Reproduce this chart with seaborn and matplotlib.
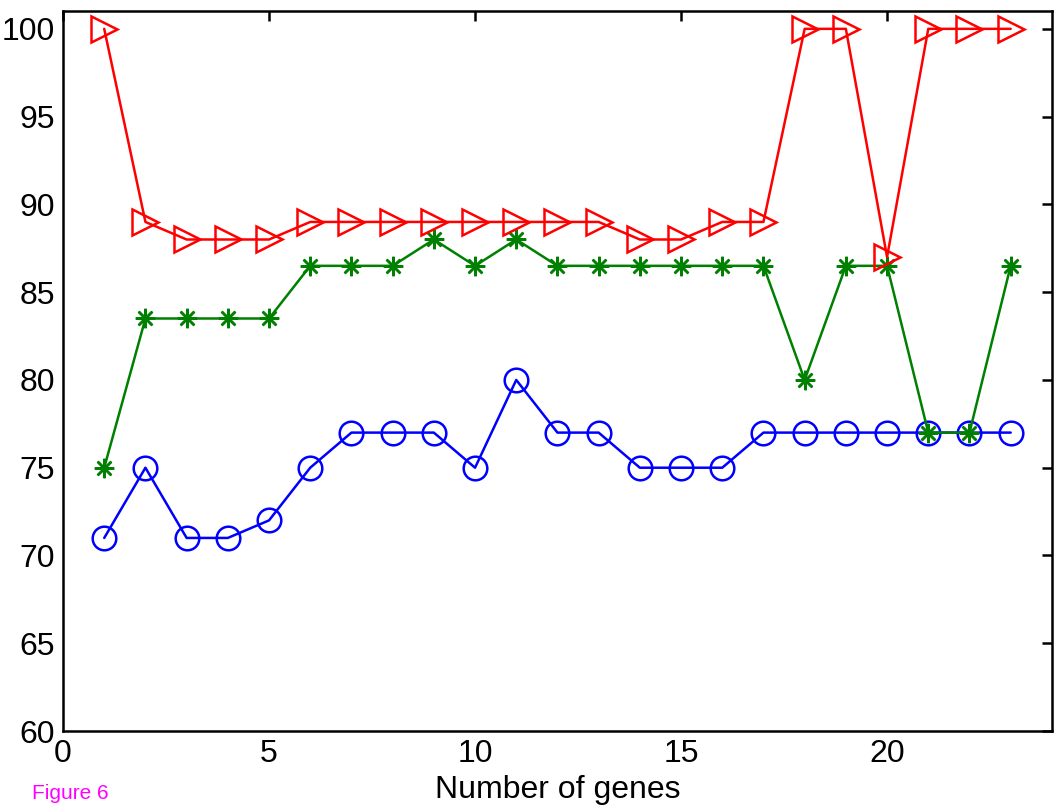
import numpy as np
import matplotlib
matplotlib.use("Agg")
import matplotlib.pyplot as plt
import seaborn as sns

# Datos
genes = list(range(1, 24))
acc_red = [100, 89, 88, 88, 88, 89, 89, 89, 89, 89, 89, 89, 89, 88, 88, 89, 89,
           100, 100, 87, 100, 100, 100]
acc_green = [75, 83.5, 83.5, 83.5, 83.5, 86.5, 86.5, 86.5, 88, 86.5, 88, 86.5,
             86.5, 86.5, 86.5, 86.5, 86.5, 80, 86.5, 86.5, 77, 77, 86.5]
acc_blue = [71, 75, 71, 71, 72, 75, 77, 77, 77, 75, 80, 77, 77, 75, 75, 75, 77,
            77, 77, 77, 77, 77, 77]
x_ticks = [0, 5, 10, 15, 20]
y_ticks = [60, 65, 70, 75, 80, 85, 90, 95, 100]

sns.set_style("white")
plt.rcParams['font.family'] = ['Liberation Sans', 'DejaVu Sans']

fig = plt.figure(figsize=(10.61, 8.06), dpi=100)
ax = fig.add_axes([0.0594, 0.093, 0.932, 0.893])

lw = 1.8
sns.lineplot(x=genes, y=acc_blue, ax=ax, color='#0000ff', linewidth=lw,
             marker='o', markersize=17, markerfacecolor='none',
             markeredgecolor='#0000ff', markeredgewidth=lw)
sns.lineplot(x=genes, y=acc_green, ax=ax, color='#008000', linewidth=lw,
             marker=(8, 2, 0), markersize=14, markerfacecolor='#008000',
             markeredgecolor='#008000', markeredgewidth=lw)
sns.lineplot(x=genes, y=acc_red, ax=ax, color='#ff0000', linewidth=lw,
             marker='>', markersize=19, markerfacecolor='none',
             markeredgecolor='#ff0000', markeredgewidth=lw)

ax.set_xlim(0, 24)
ax.set_ylim(60, 101)
ax.set_xticks(x_ticks)
ax.set_yticks(y_ticks)
ax.tick_params(direction='in', length=7, width=1.8, labelsize=23,
               top=True, right=True, pad=6, colors='black')
for s in ax.spines.values():
    s.set_linewidth(1.8)
    s.set_color('black')
ax.set_xlabel('Number of genes', fontsize=23, labelpad=4, color='black')
ax.set_ylabel('')

fig.text(0.030, 0.009, 'Figure 6', color='#ff00ff', fontsize=15)

fig.savefig('out.png', dpi=100)
